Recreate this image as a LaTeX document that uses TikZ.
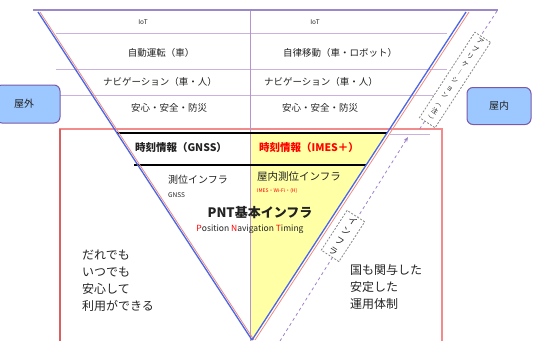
\documentclass[tikz,border=0pt]{standalone}
\usepackage{fontspec}
\setmainfont{Noto Sans CJK JP}
\usetikzlibrary{arrows.meta}
\definecolor{lav}{HTML}{C9B2DD}
\definecolor{midpurple}{HTML}{B496CC}
\definecolor{toppurple}{HTML}{9A88C8}
\definecolor{edgeblue}{HTML}{4A66E6}
\definecolor{edgered}{HTML}{F08A80}
\definecolor{boxred}{HTML}{F28C8C}
\definecolor{boxredl}{HTML}{D86060}
\definecolor{yel}{HTML}{FFFFA6}
\definecolor{placefill}{HTML}{9CC8FF}
\definecolor{placeline}{HTML}{7A5AA8}
\definecolor{txt}{HTML}{222222}
\definecolor{dashgray}{HTML}{888888}
\definecolor{dashpurple}{HTML}{A080C8}
\begin{document}
\begin{tikzpicture}[x=1pt,y=-1pt,
  rowtext/.style={font=\fontsize{9.5}{11}\selectfont, text=txt, inner sep=0},
  smalltext/.style={font=\fontsize{6.5}{8}\selectfont, text=txt, inner sep=0},
  timetext/.style={font=\fontsize{10.5}{12}\selectfont\bfseries, inner sep=0},
  infratext/.style={font=\fontsize{10}{12}\selectfont, text=txt, inner sep=0, anchor=west},
  bigtext/.style={font=\fontsize{12}{17}\selectfont, text=txt, inner sep=0, align=left, anchor=north west},
  place/.style={draw=placeline, line width=1pt, fill=placefill, rounded corners=6pt, font=\fontsize{10}{12}\selectfont, text=txt},
  vbox/.style={draw=dashgray, dash pattern=on 2pt off 1.5pt, fill=white, line width=0.8pt, align=center, text=txt, inner xsep=6pt, inner ysep=2pt, rotate=-33},
  rowline/.style={draw=lav, line width=1pt},
  blackline/.style={draw=black, line width=1.1pt},
  edge/.style={draw=edgeblue, line width=1.3pt},
  edgeoff/.style={draw=edgered, line width=0.8pt},
  dashline/.style={draw=dashpurple, dashed, line width=0.8pt}
]
\useasboundingbox (0,0) rectangle (535,340);
\clip (0,0) rectangle (535,340);

% yellow region (indoor infrastructure)
\fill[yel] (250,133) -- (387,133) -- (252,341) -- (250,341) -- cycle;

% red frame
\draw[boxred, line width=1.2pt] (60,129) rectangle (442,360);
\draw[boxredl, line width=1.8pt] (60,129) -- (60,360);

% table lines
\foreach \yy in {33,69,95} \draw[rowline] (56,\yy) -- (447,\yy);
\draw[draw=midpurple, line width=1pt] (250,10) -- (250,341);
\draw[rowline] (390,134) -- (430,134);
\draw[blackline] (117,133) -- (387,133);
\draw[blackline] (134,165) -- (366,165);

% top line
\draw[draw=toppurple, line width=1.6pt] (33,10) -- (498,10);

% triangle edges
\coordinate (tl) at (38,12);
\coordinate (tr) at (466,12);
\coordinate (apex) at (252,340);
\draw[edgeoff] (40,12) -- (254,340);
\draw[edgeoff] (469,12) -- (255,340);
\draw[edge] (tl) -- (apex);
\draw[edge] (tr) -- (apex);

% place boxes
\node[place, minimum width=64pt, minimum height=38pt] (outside) at (28,104) {};
\node[text=txt, font=\fontsize{10}{12}\selectfont] (outsidelbl) at (24,104) {屋外};
\node[place, minimum width=64pt, minimum height=37pt] (inside) at (499,106) {屋内};

% application rows
\node[smalltext] (iotl) at (143,22) {IoT};
\node[smalltext] (iotr) at (315,22) {IoT};
\node[rowtext] (autol) at (161,53) {自動運転（車）};
\node[rowtext] (autor) at (340,53) {自律移動（車・ロボット）};
\node[rowtext] (navl) at (160,82) {ナビゲーション（車・人）};
\node[rowtext] (navr) at (321,82) {ナビゲーション（車・人）};
\node[rowtext] (safel) at (169,108) {安心・安全・防災};
\node[rowtext] (safer) at (320,108) {安心・安全・防災};

% time information
\node[timetext, text=txt] (timel) at (181,148) {時刻情報（GNSS）};
\node[timetext, text=red] (timer) at (309,148) {時刻情報（IMES＋）};

% infrastructure
\node[infratext] (gnssinfra) at (168,180) {測位インフラ};
\node[smalltext, anchor=west] (gnss) at (168,195) {GNSS};
\node[infratext, font=\fontsize{10.5}{12}\selectfont] (indoorinfra) at (257,177) {屋内測位インフラ};
\node[inner sep=0, anchor=west, text=red, font=\fontsize{5}{6}\selectfont] (indoorlist) at (257,191) {IMES・Wi-Fi・(H)};
\node[inner sep=0, text=txt, font=\fontsize{13}{15}\selectfont\bfseries] (pnt) at (260,213) {PNT基本インフラ};
\node[inner sep=0, text=txt, font=\fontsize{8.5}{10}\selectfont] (pntsub) at (250,229) {\textcolor{red}{P}osition \textcolor{red}{N}avigation \textcolor{red}{T}iming};

% side texts
\node[bigtext] (anyone) at (82,250) {だれでも\\いつでも\\安心して\\利用ができる};
\node[bigtext] (govern) at (350,264) {国も関与した\\安定した\\運用体制};

% dashed guide lines and labels
\coordinate (appa) at (497,11);
\coordinate (appb) at (419,130);
\draw[dashline] (appa) -- (appb);
\coordinate (infa) at (280,341);
\coordinate (infb) at (408,137);
\draw[dashline, -{Stealth[length=5pt,width=4pt]}] (infa) -- (infb);
\node[vbox, font=\fontsize{6.6}{9.3}\selectfont] (applbl) at (455,80) {ア\\プ\\リ\\ケ\\︱\\シ\\ョ\\ン\\︵\\注\\︶};
\node[vbox, font=\fontsize{9}{12}\selectfont] (inflbl) at (343,236) {イ\\ン\\フ\\ラ};
\end{tikzpicture}
\end{document}
